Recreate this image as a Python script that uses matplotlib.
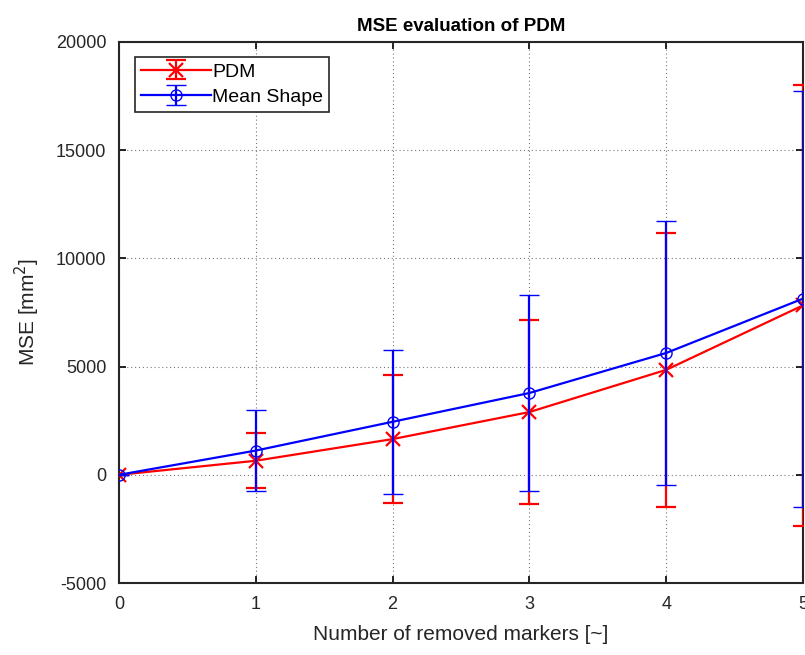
import matplotlib
matplotlib.use("Agg")
import matplotlib.pyplot as plt

plt.rcParams["font.family"] = ["Liberation Sans", "DejaVu Sans"]
plt.rcParams["axes.unicode_minus"] = False

# data
n_removed = [0, 1, 2, 3, 4, 5]
pdm_mse = [0, 650, 1650, 2900, 4850, 7830]
pdm_err = [0, 1280, 2950, 4250, 6320, 10180]
mean_mse = [0, 1120, 2450, 3780, 5630, 8140]
mean_err = [0, 1860, 3340, 4550, 6090, 9610]

x_ticks = [0, 1, 2, 3, 4, 5]
y_ticks = [-5000, 0, 5000, 10000, 15000, 20000]

fig = plt.figure(figsize=(8.05, 6.55), dpi=100)
ax = fig.add_axes([0.1478, 0.1099, 0.8497, 0.826])

ax.errorbar(n_removed, pdm_mse, yerr=pdm_err, color="#ff0000", marker="x",
            markersize=10, markeredgewidth=1.6, linewidth=1.6, elinewidth=1.6,
            capsize=7.5, capthick=1.6, label="PDM", zorder=3)
ax.errorbar(n_removed, mean_mse, yerr=mean_err, color="#0000ff", marker="o",
            markersize=8, markerfacecolor="none", markeredgewidth=1.0,
            linewidth=1.6, elinewidth=1.6, capsize=7.5, capthick=1.6,
            label="Mean Shape", zorder=4)

ax.set_xlim(0, 5)
ax.set_ylim(-5000, 20000)
ax.set_xticks(x_ticks)
ax.set_yticks(y_ticks)
ax.grid(True, color="#777777", linestyle=(0, (1, 2.5)), linewidth=0.8)
ax.set_axisbelow(True)
ax.tick_params(direction="in", top=True, right=True, length=5, width=1.2,
               labelsize=13, labelcolor="#262626", pad=9)
for s in ax.spines.values():
    s.set_linewidth(1.5)
    s.set_color("#262626")

ax.set_title("MSE evaluation of PDM", fontsize=13.5, fontweight="bold", pad=8)
ax.set_xlabel("Number of removed markers [~]", fontsize=15, color="#262626", labelpad=9)
ax.set_ylabel("MSE [mm$^2$]", fontsize=15, color="#262626", labelpad=10)

leg = ax.legend(loc="upper left", bbox_to_anchor=(0.023, 0.972), fontsize=14,
                fancybox=False, framealpha=1, edgecolor="#262626",
                borderpad=0.3, handlelength=3.6, handletextpad=0.1,
                labelspacing=0.4, borderaxespad=0)
leg.get_frame().set_linewidth(1.2)

fig.savefig("out.png", dpi=100)
